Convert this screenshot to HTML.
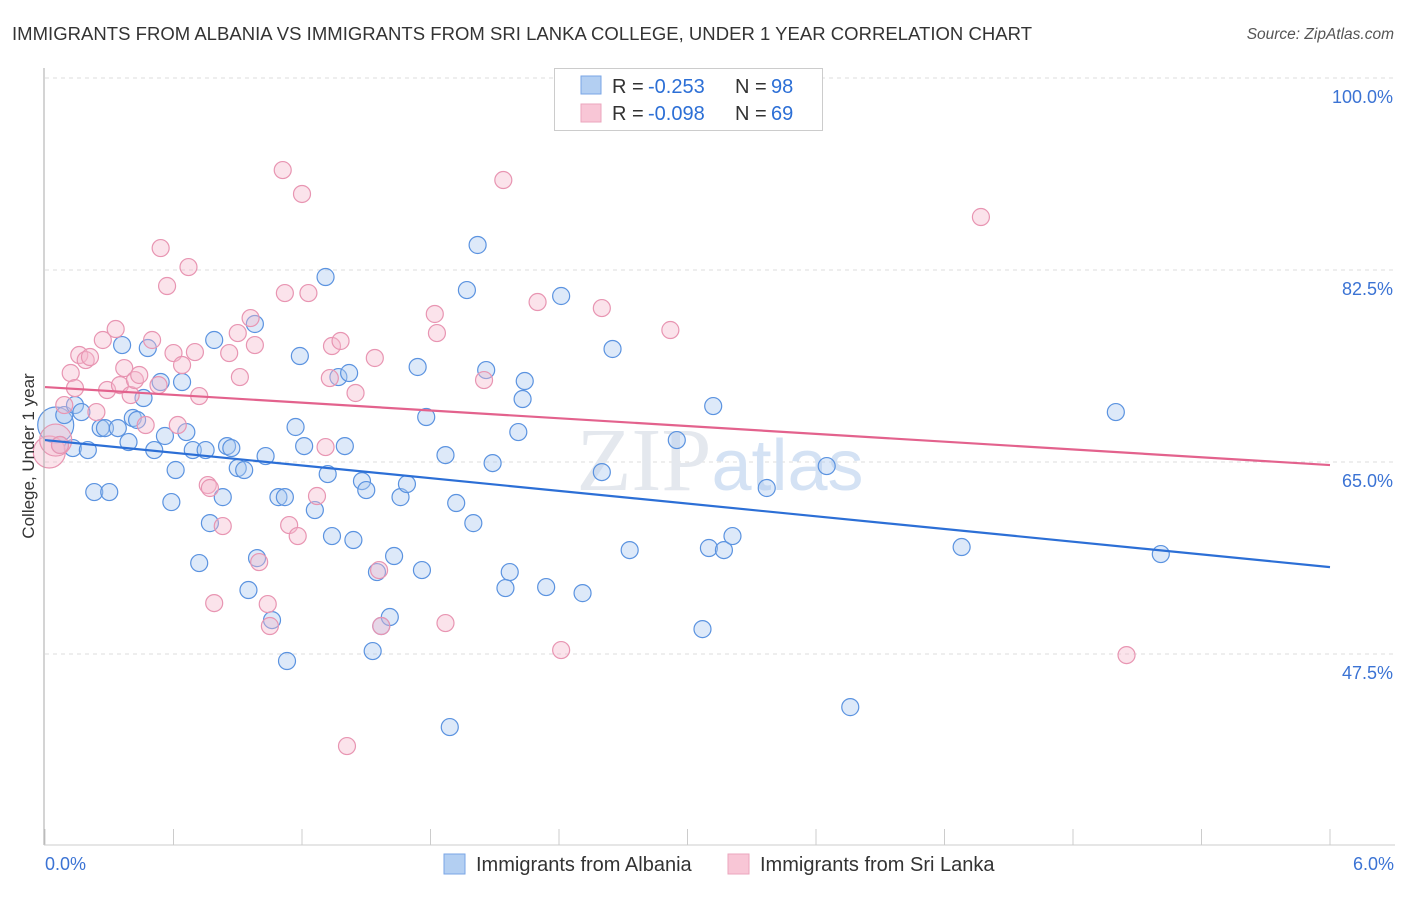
<!DOCTYPE html>
<html><head><meta charset="utf-8"><style>
body{margin:0;background:#fff;font-family:"Liberation Sans",sans-serif;}
svg text{font-family:"Liberation Sans",sans-serif;}
</style></head><body>
<svg id="chart" width="1406" height="892" xmlns="http://www.w3.org/2000/svg">
<text x="12" y="40" font-size="18.5" fill="#333" textLength="1020">IMMIGRANTS FROM ALBANIA VS IMMIGRANTS FROM SRI LANKA COLLEGE, UNDER 1 YEAR CORRELATION CHART</text>
<text x="1394" y="39" font-size="15.5" fill="#555" font-style="italic" text-anchor="end">Source: ZipAtlas.com</text>
<g id="grid"></g>
<text x="720" y="490" font-size="90" fill="#e4e8ee" text-anchor="middle" font-family="Liberation Serif"><tspan font-family="Liberation Serif">ZIP</tspan><tspan fill="#d4e2f4" font-family="Liberation Sans" font-size="72">atlas</tspan></text>
<g id="pts"></g>
<g id="lines"></g>
<line x1="44" y1="68" x2="44" y2="845" stroke="#aaa"/>
<line x1="44" y1="845" x2="1395" y2="845" stroke="#ccc"/>
<g id="xt"></g>
<text x="45" y="870" font-size="18" fill="#3b73d4">0.0%</text>
<text x="1394" y="870" font-size="18" fill="#3b73d4" text-anchor="end">6.0%</text>
<text transform="translate(34,456) rotate(-90)" font-size="17" fill="#333" text-anchor="middle">College, Under 1 year</text>
<g>
<rect x="554.5" y="68.5" width="268" height="62" fill="#fff" stroke="#ccc"/>
<rect x="581" y="76" width="20" height="18" fill="#b3cff2" stroke="#7aa6e6"/>
<rect x="581" y="104" width="20" height="18" fill="#f8c6d6" stroke="#eba6bd"/>
<g font-size="20">
<text x="612" y="93" fill="#333">R =</text><text x="648" y="93" fill="#2c6fd6">-0.253</text>
<text x="735" y="93" fill="#333">N =</text><text x="771" y="93" fill="#2c6fd6">98</text></g>
<g font-size="20">
<text x="612" y="120" fill="#333">R =</text><text x="648" y="120" fill="#2c6fd6">-0.098</text>
<text x="735" y="120" fill="#333">N =</text><text x="771" y="120" fill="#2c6fd6">69</text></g>
</g>
<g>
<rect x="444" y="854" width="21" height="20" fill="#b3cff2" stroke="#7aa6e6"/>
<text x="476" y="871" font-size="20" fill="#333">Immigrants from Albania</text>
<rect x="728" y="854" width="21" height="20" fill="#f8c6d6" stroke="#eba6bd"/>
<text x="760" y="871" font-size="20" fill="#333">Immigrants from Sri Lanka</text>
</g>
</svg>
<script>
const yTicks=[100,82.5,65,47.5];
const yTickLabels=["100.0%","82.5%","65.0%","47.5%"];
const blueX=[0.05,0.07,0.09,0.13,0.14,0.17,0.20,0.23,0.26,0.28,0.30,0.34,0.36,0.39,0.41,0.43,0.46,0.48,0.51,0.54,0.56,0.59,0.61,0.64,0.66,0.69,0.72,0.75,0.77,0.79,0.83,0.85,0.87,0.90,0.93,0.95,0.98,0.99,1.03,1.06,1.09,1.12,1.13,1.17,1.19,1.21,1.26,1.31,1.32,1.34,1.37,1.40,1.42,1.44,1.48,1.50,1.53,1.55,1.57,1.61,1.63,1.66,1.69,1.74,1.76,1.78,1.87,1.89,1.92,1.97,2.00,2.02,2.06,2.09,2.17,2.15,2.21,2.23,2.24,2.34,2.41,2.51,2.60,2.65,2.73,2.95,3.07,3.10,3.12,3.17,3.21,3.37,3.65,3.76,4.28,5.00,5.21];
const blueY=[68.37,66.55,69.28,66.27,70.19,69.55,66.09,62.26,68.09,68.09,62.26,68.09,75.66,66.82,69.01,68.83,70.83,75.39,66.09,72.29,67.37,61.35,64.27,72.29,67.73,66.09,55.79,66.09,59.43,76.12,61.8,66.45,66.27,64.45,64.27,53.33,77.58,56.24,65.54,50.59,61.8,61.8,46.86,68.19,74.66,66.45,60.62,81.86,63.9,58.25,72.74,66.45,73.11,57.89,63.26,62.44,47.77,54.97,50.05,50.87,56.43,61.8,62.99,73.66,55.15,69.1,65.63,40.84,61.26,80.67,59.43,84.78,73.38,64.9,54.97,53.51,67.73,70.74,72.38,53.6,80.13,53.05,64.08,75.3,56.97,67.0,49.77,57.16,70.1,56.97,58.25,62.63,64.63,42.66,57.25,69.55,56.61];
const pinkX=[0.02,0.05,0.07,0.09,0.12,0.14,0.16,0.19,0.21,0.24,0.27,0.29,0.33,0.35,0.37,0.40,0.42,0.44,0.47,0.50,0.53,0.54,0.57,0.60,0.62,0.64,0.67,0.70,0.72,0.76,0.77,0.79,0.83,0.86,0.90,0.91,0.96,0.98,1.00,1.04,1.05,1.11,1.12,1.14,1.18,1.20,1.23,1.27,1.31,1.33,1.34,1.38,1.45,1.41,1.54,1.56,1.57,1.82,1.83,1.87,2.05,2.14,2.30,2.41,2.60,2.92,4.37,5.05];
const pinkY=[65.91,67.0,66.55,70.19,73.11,71.74,74.75,74.29,74.57,69.55,76.12,71.56,77.12,72.01,73.56,71.1,72.47,72.93,68.37,76.12,72.01,84.5,81.04,74.93,68.37,73.84,82.77,75.02,71.01,62.9,62.63,52.14,59.16,74.93,76.75,72.74,78.12,75.66,55.88,52.05,50.05,91.61,80.4,59.25,58.25,89.43,80.4,61.9,66.36,72.65,75.57,76.03,71.29,39.11,74.48,55.15,50.05,78.49,76.75,50.32,72.47,90.7,79.58,47.86,79.03,77.03,87.33,47.4];
const blueTrend=[67.0,55.42];
const pinkTrend=[71.83,64.72];
const NS="http://www.w3.org/2000/svg";
function sx(v){return 45+v/6*1285;}
function sy(v){return 78+(100-v)*192/17.5;}
function mk(t,a,p){const e=document.createElementNS(NS,t);for(const k in a)e.setAttribute(k,a[k]);p.appendChild(e);return e;}
const grid=document.getElementById('grid');
yTicks.forEach((t,i)=>{
 const l=mk('line',{x1:45,x2:1395,y1:sy(t),y2:sy(t),stroke:'#ddd','stroke-dasharray':'4,4'},grid);
 
 
 const tx=mk('text',{x:1393,y:sy(t)+25,'font-size':18,fill:'#3b73d4','text-anchor':'end'},grid);
 tx.textContent=yTickLabels[i];
 
 
});
const xt=document.getElementById('xt');
for(let i=0;i<=10;i++){
 const x=45+i*128.5;
 const l=mk('line',{x1:x,x2:x,y1:829,y2:845,stroke:'#ccc'},xt);
 
 
}
const pts=document.getElementById('pts');
blueX.forEach((x,i)=>{
 const c=mk('circle',{cx:sx(x),cy:sy(blueY[i]),r:i===0?18:8.5,fill:'#a9c8f0','fill-opacity':0.4,stroke:'#5b93e0','stroke-width':1.2},pts);
 
 
});
pinkX.forEach((x,i)=>{
 const c=mk('circle',{cx:sx(x),cy:sy(pinkY[i]),r:i<2?16:8.5,fill:'#f5b8cc','fill-opacity':0.4,stroke:'#e895b2','stroke-width':1.2},pts);
 
 
});
const lines=document.getElementById('lines');
const bl=mk('line',{x1:sx(0),x2:sx(6),y1:sy(blueTrend[0]),y2:sy(blueTrend[1]),stroke:'#2c6fd6','stroke-width':2.2},lines);


const pl=mk('line',{x1:sx(0),x2:sx(6),y1:sy(pinkTrend[0]),y2:sy(pinkTrend[1]),stroke:'#e3628d','stroke-width':2.2},lines);


</script>
</body></html>
